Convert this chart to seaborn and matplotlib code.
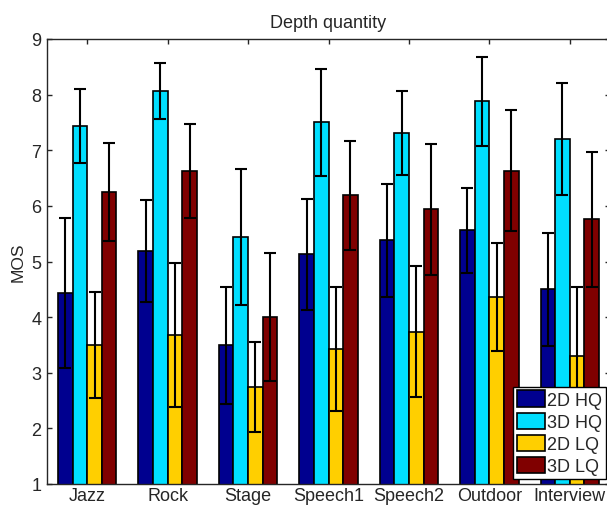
import numpy as np
import pandas as pd
import matplotlib
matplotlib.use("Agg")
import matplotlib.pyplot as plt
import seaborn as sns
from matplotlib.patches import Patch

# data
categories = ["Jazz", "Rock", "Stage", "Speech1", "Speech2", "Outdoor", "Interview"]
conditions = ["2D HQ", "3D HQ", "2D LQ", "3D LQ"]

mos_2d_hq = [4.44, 5.19, 3.49, 5.13, 5.38, 5.56, 4.50]
mos_3d_hq = [7.44, 8.07, 5.44, 7.50, 7.31, 7.88, 7.20]
mos_2d_lq = [3.50, 3.68, 2.74, 3.43, 3.74, 4.37, 3.31]
mos_3d_lq = [6.25, 6.63, 4.00, 6.19, 5.94, 6.63, 5.76]

ci_2d_hq = [1.35, 0.91, 1.05, 1.00, 1.02, 0.76, 1.02]
ci_3d_hq = [0.67, 0.50, 1.23, 0.96, 0.75, 0.80, 1.01]
ci_2d_lq = [0.96, 1.30, 0.81, 1.12, 1.18, 0.97, 1.24]
ci_3d_lq = [0.88, 0.85, 1.15, 0.98, 1.18, 1.09, 1.21]

means = [mos_2d_hq, mos_3d_hq, mos_2d_lq, mos_3d_lq]
errs = [ci_2d_hq, ci_3d_hq, ci_2d_lq, ci_3d_lq]
colors = ["#00008F", "#00DFFF", "#FFCF00", "#800000"]

df = pd.DataFrame({
    "category": categories * 4,
    "condition": np.repeat(conditions, len(categories)),
    "MOS": np.concatenate(means),
})

sns.set_style("ticks")
plt.rcParams["font.family"] = ["Liberation Sans", "DejaVu Sans"]

fig = plt.figure(figsize=(6.07, 5.06), dpi=100)
# right edge sits just past the image border, as in the original
ax = fig.add_axes([47 / 607, 21 / 506, 563 / 607, 445 / 506])

sns.barplot(data=df, x="category", y="MOS", hue="condition", order=categories,
            hue_order=conditions, palette=colors, saturation=1, width=0.727, gap=0,
            edgecolor="black", linewidth=1.2, errorbar=None, legend=False, ax=ax)

# error bars centred on each bar
bar_groups = list(ax.containers)
for i, cont in enumerate(bar_groups):
    xs = [b.get_x() + b.get_width() / 2 for b in cont]
    ax.errorbar(xs, means[i], yerr=errs[i], fmt="none", ecolor="black",
                elinewidth=1.5, capsize=4, capthick=1.5, zorder=5)

ax.set_xlim(-0.5, 6.5)
ax.set_ylim(1, 9)
ax.set_yticks(range(1, 10))
ax.set_xlabel("")
ax.set_ylabel("MOS", fontsize=12.5, labelpad=4)
ax.set_title("Depth quantity", fontsize=13, pad=9)
ax.tick_params(direction="in", top=True, right=True, length=3.5, width=1)
ax.tick_params(axis="x", labelsize=13, pad=2.5)
ax.tick_params(axis="y", labelsize=13, pad=4)
for s in ax.spines.values():
    s.set_linewidth(1)
ax.spines["top"].set_visible(True)
ax.spines["right"].set_visible(False)  # falls outside the cropped image

handles = [Patch(facecolor=c, edgecolor="black", linewidth=1.2) for c in colors]
leg = ax.legend(handles, conditions, loc="lower right",
                bbox_to_anchor=(606 / 607, 26 / 506), bbox_transform=fig.transFigure,
                borderaxespad=0, fancybox=False, framealpha=1, edgecolor="black",
                fontsize=13, labelspacing=0.22, handlelength=1.55, handleheight=1.0,
                handletextpad=0.15, borderpad=0.2)
leg.get_frame().set_linewidth(1)
leg.set_zorder(10)

fig.savefig("out.png", dpi=100)
